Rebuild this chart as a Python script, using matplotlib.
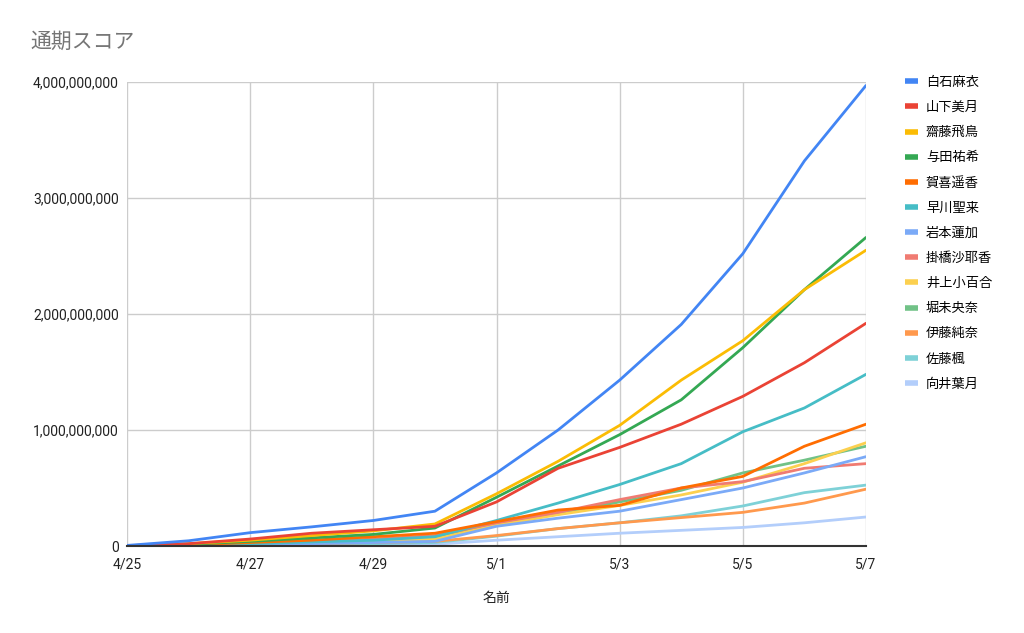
import matplotlib.pyplot as plt
from matplotlib.ticker import FuncFormatter

plt.rcParams['font.family'] = ['Roboto', 'Noto Sans CJK JP', 'DejaVu Sans']

dates = ['4/25', '4/26', '4/27', '4/28', '4/29', '4/30', '5/1',
         '5/2', '5/3', '5/4', '5/5', '5/6', '5/7']

# values in units of 1e9
shiraishi = [0.005, 0.045, 0.115, 0.165, 0.22, 0.30, 0.63, 1.00, 1.43, 1.91, 2.52, 3.32, 3.97]
yamashita = [0.003, 0.02, 0.06, 0.11, 0.14, 0.17, 0.38, 0.67, 0.85, 1.05, 1.29, 1.58, 1.92]
saito = [0.003, 0.02, 0.05, 0.09, 0.13, 0.19, 0.45, 0.73, 1.04, 1.43, 1.77, 2.21, 2.55]
yoda = [0.002, 0.015, 0.04, 0.07, 0.10, 0.155, 0.42, 0.69, 0.96, 1.26, 1.71, 2.21, 2.66]
kaki = [0.002, 0.01, 0.03, 0.05, 0.08, 0.11, 0.21, 0.31, 0.35, 0.50, 0.60, 0.86, 1.05]
hayakawa = [0.001, 0.008, 0.02, 0.035, 0.05, 0.08, 0.22, 0.37, 0.53, 0.71, 0.985, 1.19, 1.48]
iwamoto = [0.001, 0.004, 0.01, 0.02, 0.03, 0.04, 0.17, 0.24, 0.30, 0.40, 0.50, 0.63, 0.77]
kakehashi = [0.001, 0.007, 0.02, 0.035, 0.06, 0.09, 0.20, 0.29, 0.40, 0.50, 0.555, 0.67, 0.71]
inoue = [0.001, 0.005, 0.015, 0.03, 0.045, 0.06, 0.18, 0.27, 0.35, 0.44, 0.55, 0.71, 0.89]
hori = [0.001, 0.006, 0.017, 0.03, 0.05, 0.07, 0.19, 0.28, 0.38, 0.48, 0.63, 0.74, 0.86]
ito = [0.001, 0.004, 0.01, 0.02, 0.03, 0.04, 0.09, 0.15, 0.20, 0.245, 0.29, 0.37, 0.49]
sato = [0.001, 0.003, 0.008, 0.015, 0.02, 0.03, 0.085, 0.15, 0.20, 0.26, 0.345, 0.46, 0.525]
mukai = [0.0, 0.002, 0.005, 0.008, 0.01, 0.015, 0.05, 0.08, 0.11, 0.135, 0.16, 0.20, 0.25]

names = ['白石麻衣', '山下美月', '齋藤飛鳥', '与田祐希', '賀喜遥香', '早川聖来', '岩本蓮加',
         '掛橋沙耶香', '井上小百合', '堀未央奈', '伊藤純奈', '佐藤楓', '向井葉月']
series = [shiraishi, yamashita, saito, yoda, kaki, hayakawa, iwamoto,
          kakehashi, inoue, hori, ito, sato, mukai]
colors = ['#4285F4', '#EA4335', '#FBBC04', '#34A853', '#FF6D01', '#46BDC6', '#7BAAF7',
          '#F07B72', '#FCD04F', '#71C287', '#FF994D', '#7ED1D7', '#B3CEFB']

fig = plt.figure(figsize=(10.24, 6.33), dpi=100)
ax = fig.add_axes([127 / 1024, 87 / 633, 739 / 1024, 464 / 633])

x = list(range(len(dates)))
# draw in reverse so the first series ends up on top
for name, vals, c in reversed(list(zip(names, series, colors))):
    ax.plot(x, [v * 1e9 for v in vals], color=c, lw=2, label=name, solid_capstyle='round')

ax.set_xlim(0, len(dates) - 1)
ax.set_ylim(0, 4e9)
ax.set_xticks(x[::2])
ax.set_xticklabels(dates[::2])
ax.set_yticks([0, 1e9, 2e9, 3e9, 4e9])
ax.yaxis.set_major_formatter(FuncFormatter(lambda v, p: f'{int(v):,}'))
ax.tick_params(length=0, labelsize=10, colors='#222222')
ax.tick_params(axis='x', pad=8)
ax.tick_params(axis='y', pad=6)
ax.grid(True, color='#cccccc', lw=1)
ax.set_axisbelow(True)
for s in ['top', 'right', 'left']:
    ax.spines[s].set_visible(False)
ax.spines['bottom'].set_color('#333333')
ax.spines['bottom'].set_linewidth(1.5)
ax.spines['bottom'].set_zorder(5)

ax.set_xlabel('名前', fontsize=10, color='#222222', labelpad=14)

fig.text(30 / 1024, 1 - 42 / 633, '通期スコア', fontsize=15, color='#757575', va='center')

handles, labels = ax.get_legend_handles_labels()
leg = fig.legend(handles[::-1], labels[::-1], loc='upper left',
                 bbox_to_anchor=(893 / 1024, 1 - 64 / 633), frameon=False,
                 fontsize=9.5, handlelength=1.0, handletextpad=0.6,
                 labelspacing=0.92)
for h in leg.get_lines():
    h.set_linewidth(4)
    h.set_solid_capstyle('butt')

fig.savefig('out.png', dpi=100)
